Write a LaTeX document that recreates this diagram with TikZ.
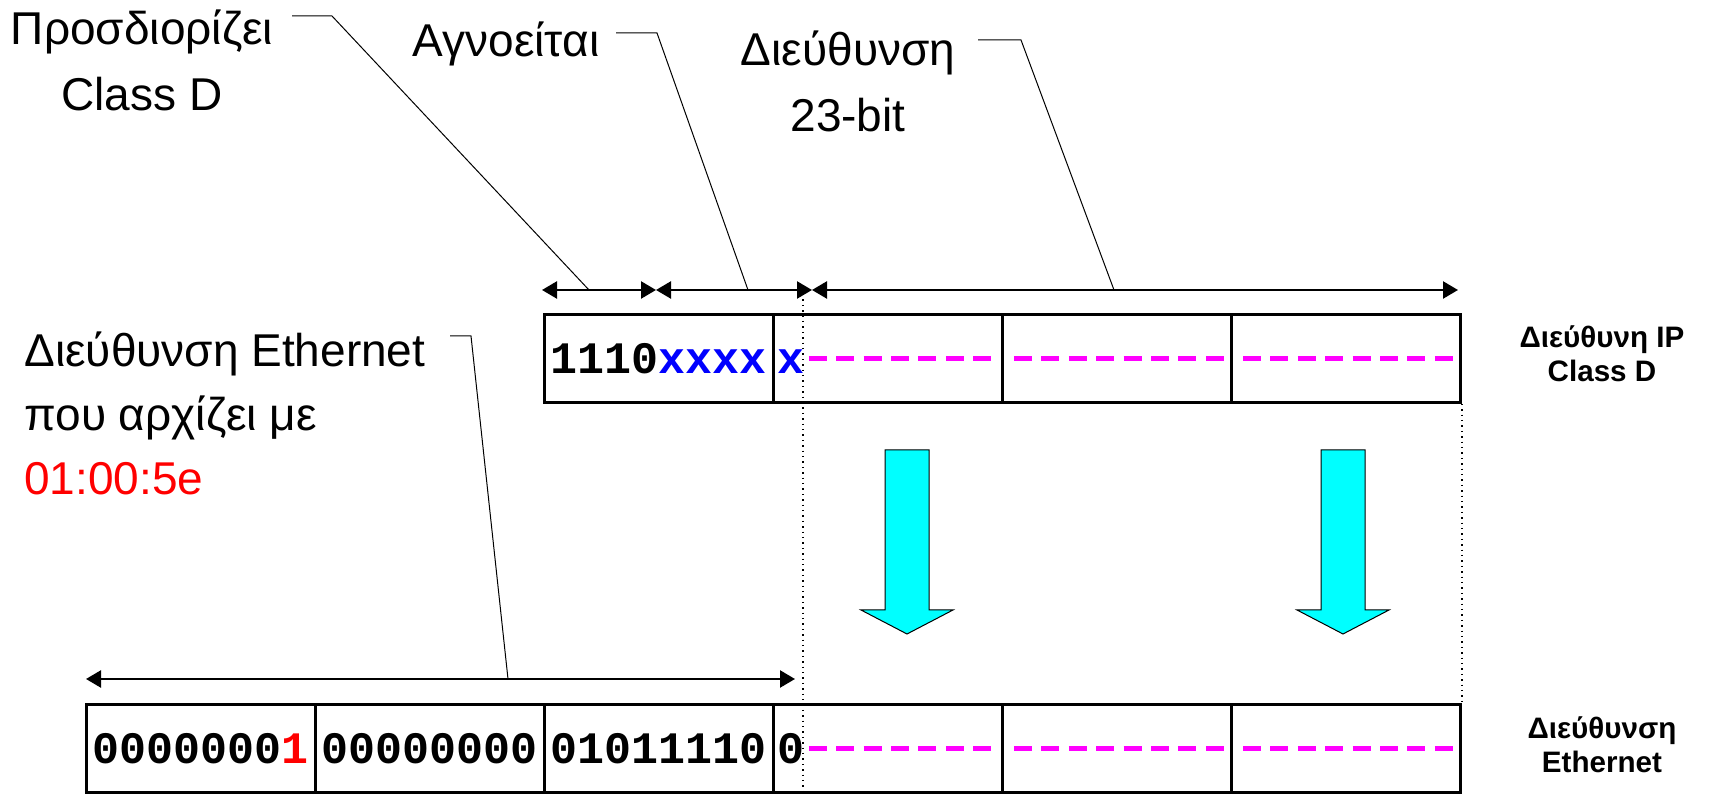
\documentclass[tikz,border=0pt]{standalone}
\usepackage{fontspec}
\setmainfont{Liberation Sans}
\newfontfamily\bitfont{Liberation Mono}
\usetikzlibrary{arrows.meta,positioning,calc}
\definecolor{mcmag}{HTML}{FF00FF}
\definecolor{mccyan}{HTML}{00FFFF}
\definecolor{mcblue}{HTML}{0000FF}
\definecolor{mcred}{HTML}{FF0000}
\tikzset{
  cell/.style={draw, line width=1.4pt, minimum width=114.5pt, minimum height=44pt, inner sep=0pt, anchor=north west},
  bits/.style={font=\bitfont\bfseries\fontsize{22.5}{24}\selectfont, inner sep=0pt, anchor=base west},
  lbl/.style={font=\fontsize{23}{33}\selectfont, align=center, inner sep=0pt},
  side/.style={font=\bfseries\fontsize{14.8}{17}\selectfont, align=center, inner sep=0pt},
  dim/.style={{Triangle[length=7.5pt,width=8.5pt]}-{Triangle[length=7.5pt,width=8.5pt]}, line width=1.2pt},
  lead/.style={line width=0.5pt},
  guide/.style={dotted, line width=0.7pt},
  magdash/.style={mcmag, line width=2.6pt, dash pattern=on 9pt off 4.7pt},
  down/.style={fill=mccyan, draw=black, line width=0.5pt},
}
\begin{document}
\begin{tikzpicture}[x=0.5pt, y=-0.5pt]
  \useasboundingbox (0,0) rectangle (1709,795);
  % cells
  \foreach \i in {0,...,5} \node[cell] (e\i) at ({85+229*\i},703) {};
  \foreach \i in {2,...,5} \node[cell] (p\i) at ({85+229*\i},313) {};
  % bit strings
  \node[bits] (pb2) at ([xshift=3.5pt, yshift=-7.5pt]p2.west) {1110\textcolor{mcblue}{xxxx}};
  \node[bits, text=mcblue] (pb3) at ([xshift=2.5pt, yshift=-7.5pt]p3.west) {x};
  \node[bits] (eb0) at ([xshift=3.5pt, yshift=-7.5pt]e0.west) {0000000\textcolor{mcred}{1}};
  \node[bits] (eb1) at ([xshift=3.5pt, yshift=-7.5pt]e1.west) {00000000};
  \node[bits] (eb2) at ([xshift=3.5pt, yshift=-7.5pt]e2.west) {01011110};
  \node[bits] (eb3) at ([xshift=2.5pt, yshift=-7.5pt]e3.west) {0};
  \draw[magdash] ([xshift=2pt]pb3.east |- p3.east) -- ([xshift=-2pt]p3.east);
  \draw[magdash] ([xshift=2pt]eb3.east |- e3.east) -- ([xshift=-2pt]e3.east);
  \foreach \i in {4,5} {
    \draw[magdash] ([xshift=6.5pt]p\i.west) -- ([xshift=-2pt]p\i.east);
    \draw[magdash] ([xshift=6.5pt]e\i.west) -- ([xshift=-2pt]e\i.east);
  }
  % dimension arrows
  \coordinate (a0) at (542,290);
  \coordinate (a4) at (656,290);
  \coordinate (a9) at (812,290);
  \coordinate (a32) at (1458,290);
  \coordinate (b0) at (86,679);
  \coordinate (b25) at (795,679);
  \draw[dim] (a0) -- (a4);
  \draw[dim] (a4) -- (a9);
  \draw[dim] (a9) -- (a32);
  \draw[dim] (b0) -- (b25);
  % guides
  \coordinate (g0) at (803,294);
  \coordinate (g1) at (803,795);
  \draw[guide] (g0) -- (g1);
  \draw[guide] (p5.south east) -- (e5.north east);
  % mapping arrows
  \foreach \cx in {907,1343}
    \draw[down] ({\cx-22},450) -- ({\cx+22},450) -- ({\cx+22},610) -- ({\cx+46},610)
      -- (\cx,634) -- ({\cx-46},610) -- ({\cx-22},610) -- cycle;
  % labels
  \node[lbl] (nclass) at (142,60) {Προσδιορίζει\\Class D};
  \node[lbl] (nign) at (506,44) {Αγνοείται};
  \node[lbl] (nbits) at (848,81) {Διεύθυνση\\23-bit};
  \node[lbl, align=left, anchor=west, font=\fontsize{23}{32}\selectfont] (neth) at (24,413)
    {Διεύθυνση Ethernet\\που αρχίζει με\\\textcolor{mcred}{01:00:5e}};
  \node[side] (nip) at (1602,354) {Διεύθυνη IP\\Class D};
  \node[side] (nmac) at (1602,745) {Διεύθυνση\\Ethernet};
  % leaders
  \coordinate (k1a) at (292,16);  \coordinate (k1b) at (332,16);
  \coordinate (k2a) at (616,33);  \coordinate (k2b) at (657,33);
  \coordinate (k3a) at (978,40);  \coordinate (k3b) at (1021,40);
  \coordinate (k4a) at (450,336); \coordinate (k4b) at (471,336);
  \coordinate (k1c) at (589,290);
  \coordinate (k2c) at (748,290);
  \coordinate (k3c) at (1114,290);
  \coordinate (k4c) at (508,679);
  \draw[lead] (k1a) -- (k1b) -- (k1c);
  \draw[lead] (k2a) -- (k2b) -- (k2c);
  \draw[lead] (k3a) -- (k3b) -- (k3c);
  \draw[lead] (k4a) -- (k4b) -- (k4c);
\end{tikzpicture}
\end{document}
